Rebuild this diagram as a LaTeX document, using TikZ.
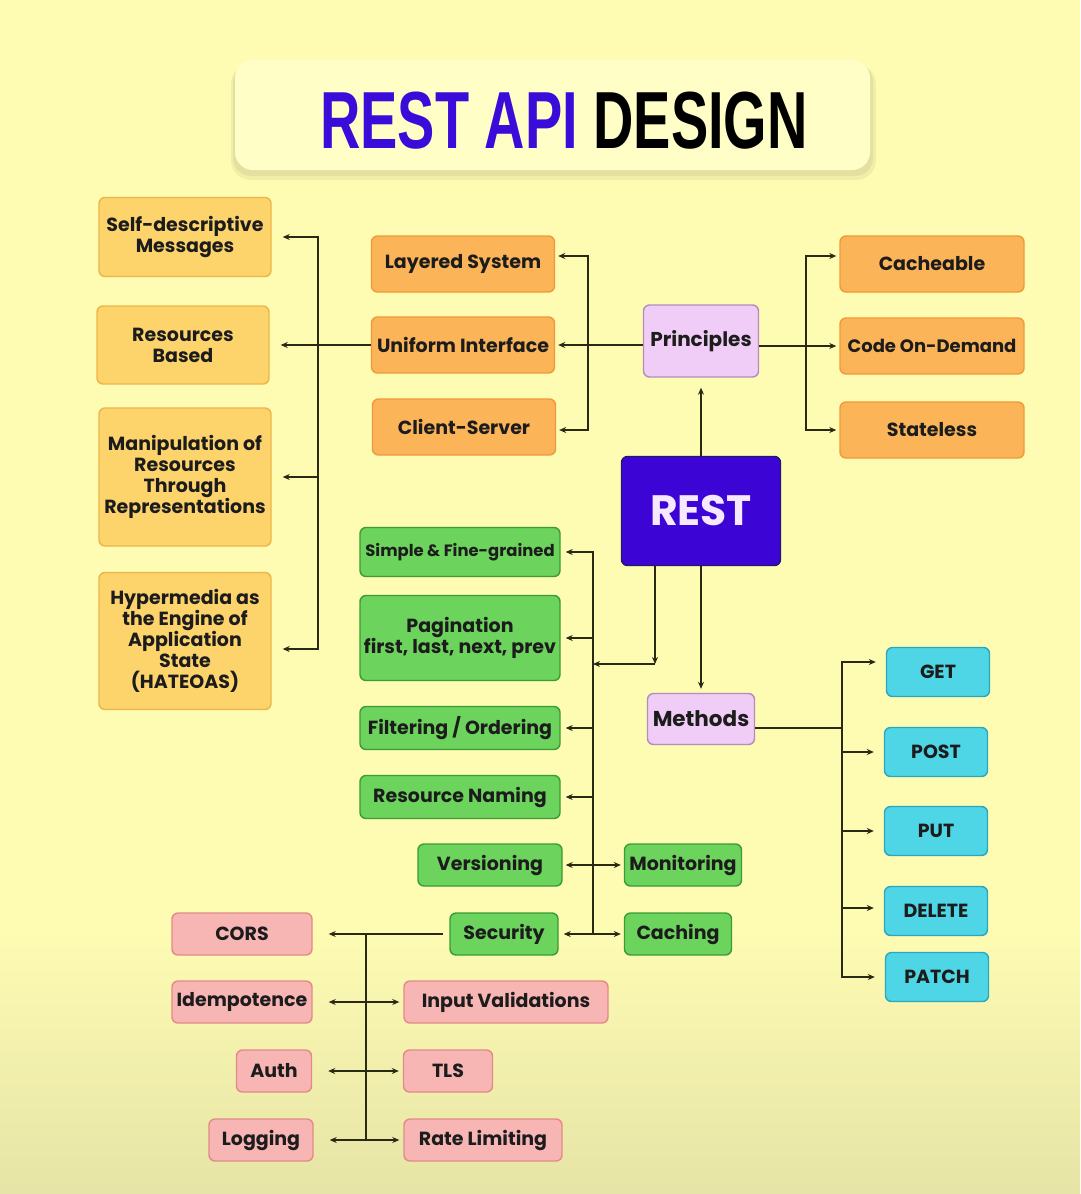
\documentclass[tikz,border=0pt]{standalone}
\usepackage{fontspec}
\setmainfont{Poppins}
\newfontfamily\titlefont{Liberation Sans}
\usetikzlibrary{arrows.meta}
\definecolor{bg}{HTML}{FEFBB3}
\definecolor{bgb}{HTML}{E6E4A6}
\definecolor{titleF}{HTML}{FFFEC6}
\definecolor{titleP}{HTML}{3B0BD9}
\definecolor{txt}{HTML}{1C1C1C}
\definecolor{loF}{HTML}{FDD36C}
\definecolor{loD}{HTML}{EDB548}
\definecolor{moF}{HTML}{FBB458}
\definecolor{moD}{HTML}{EE9A3A}
\definecolor{grF}{HTML}{6CD35C}
\definecolor{grD}{HTML}{3C9B35}
\definecolor{pkF}{HTML}{F7B6B4}
\definecolor{pkD}{HTML}{E38A88}
\definecolor{cyF}{HTML}{4ED6E6}
\definecolor{cyD}{HTML}{2BA7BE}
\definecolor{lvF}{HTML}{EFCDF6}
\definecolor{lvD}{HTML}{B08DBF}
\definecolor{restF}{HTML}{3D05D5}
\definecolor{restD}{HTML}{1E1A6A}
\definecolor{restT}{HTML}{F6E8FF}
\definecolor{lc}{HTML}{2A2A14}
\begin{document}
\begin{tikzpicture}[x=1pt,y=-1pt,
 box/.style={rounded corners=6pt, line width=1.4pt, align=center, inner sep=0pt, text=txt, font=\bfseries\fontsize{19}{21}\selectfont},
 lo/.style={box, fill=loF, draw=loD, minimum width=172pt},
 mo/.style={box, fill=moF, draw=moD, minimum width=183pt, minimum height=56pt},
 gr/.style={box, fill=grF, draw=grD, minimum height=43pt},
 pk/.style={box, fill=pkF, draw=pkD, minimum height=42pt},
 cy/.style={box, fill=cyF, draw=cyD, minimum width=103pt, minimum height=49pt},
 lv/.style={box, fill=lvF, draw=lvD},
 arr/.style={line width=1.8pt, draw=lc, -{Stealth[length=7pt,width=6pt]}},
 darr/.style={line width=1.8pt, draw=lc, {Stealth[length=7pt,width=6pt]}-{Stealth[length=7pt,width=6pt]}},
 ln/.style={line width=1.8pt, draw=lc}]
\useasboundingbox (0,0) rectangle (1080,1194);
% background
\fill[bg] (0,0) rectangle (1080,1194);
\shade[top color=bg, bottom color=bgb] (0,930) rectangle (1080,1194);
% title
\fill[black, opacity=0.05, rounded corners=20pt] (231,64) rectangle (876,180);
\fill[black, opacity=0.05, rounded corners=18pt] (233,64) rectangle (873,176);
\fill[titleF, rounded corners=18pt] (235,60) rectangle (870,170);
\node[inner sep=0pt] (title) at (564,121) {\scalebox{0.69}[1]{\titlefont\bfseries\fontsize{81}{81}\selectfont\textcolor{titleP}{REST API} \textcolor{black}{DESIGN}}};

% left orange column
\node[lo, minimum height=79pt] (sdm) at (185,237) {Self-descriptive\\Messages};
\node[lo, minimum height=78pt] (rb) at (183,345) {Resources\\Based};
\node[lo, minimum height=138pt] (man) at (185,477) {Manipulation of\\Resources\\Through\\Representations};
\node[lo, minimum height=137pt] (hyp) at (185,641) {Hypermedia as\\the Engine of\\Application\\State\\(HATEOAS)};

% middle orange
\node[mo] (ls) at (463,264) {Layered System};
\node[mo] (ui) at (463,345) {Uniform Interface};
\node[mo] (cs) at (464,427) {Client-Server};
% right orange
\node[mo, minimum width=184pt] (cach) at (932,264) {Cacheable};
\node[mo, minimum width=184pt, font=\bfseries\fontsize{18}{21}\selectfont] (cod) at (932,346) {Code On-Demand};
\node[mo, minimum width=184pt] (stl) at (932,430) {Stateless};

% core
\node[lv, minimum width=115pt, minimum height=72pt, font=\bfseries\fontsize{20}{22}\selectfont] (pr) at (701,341) {Principles};
\node[box, fill=restF, draw=restD, text=restT, minimum width=159pt, minimum height=109pt, font=\bfseries\fontsize{42.5}{44}\selectfont] (rest) at (701,511) {REST};
\node[lv, minimum width=107pt, minimum height=51pt, font=\bfseries\fontsize{21.5}{23}\selectfont] (me) at (701,719) {Methods};

% green
\node[gr, minimum width=200pt, minimum height=49pt, font=\bfseries\fontsize{16.4}{19}\selectfont] (sfg) at (460,552) {Simple \& Fine-grained};
\node[gr, minimum width=200pt, minimum height=85pt] (pag) at (460,638) {Pagination\\first, last, next, prev};
\node[gr, minimum width=200pt] (fo) at (460,728) {Filtering / Ordering};
\node[gr, minimum width=200pt] (rn) at (460,797) {Resource Naming};
\node[gr, minimum width=144pt, minimum height=42pt] (ver) at (490,865) {Versioning};
\node[gr, minimum width=117pt, minimum height=42pt] (mon) at (683,865) {Monitoring};
\node[gr, minimum width=108pt, minimum height=42pt] (sec) at (504,934) {Security};
\node[gr, minimum width=107pt, minimum height=42pt] (cac) at (678,934) {Caching};

% pink
\node[pk, minimum width=140pt] (cors) at (242,934) {CORS};
\node[pk, minimum width=140pt] (idm) at (242,1002) {Idempotence};
\node[pk, minimum width=204pt] (iv) at (506,1002) {Input Validations};
\node[pk, minimum width=75pt] (auth) at (274,1071) {Auth};
\node[pk, minimum width=89pt] (tls) at (448,1071) {TLS};
\node[pk, minimum width=104pt] (log) at (261,1140) {Logging};
\node[pk, minimum width=158pt] (rl) at (483,1140) {Rate Limiting};

% cyan
\node[cy] (get) at (938,672) {GET};
\node[cy] (post) at (936,752) {POST};
\node[cy] (put) at (936,831) {PUT};
\node[cy] (del) at (936,911) {DELETE};
\node[cy] (pat) at (937,977) {PATCH};

% junction coordinates
\coordinate (s1) at (588,345);
\coordinate (s2) at (318,345);
\coordinate (s3) at (806,346);
\coordinate (j1) at (655,664);
\coordinate (s4) at (593,934);
\coordinate (s5) at (842,728);
\coordinate (s6t) at (366,934);
\coordinate (s6b) at (366,1140);

% principles left
\draw[arr] (pr.west |- ui.east) -- ([xshift=3pt]ui.east);
\draw[arr] (s1) |- ([xshift=3pt,yshift=8pt]ls.east);
\draw[arr] (s1) |- ([xshift=3pt,yshift=-3pt]cs.east);
% uniform interface -> left column
\draw[arr] (ui.west) -- ([xshift=11pt]rb.east);
\draw[arr] (s2) |- ([xshift=11pt]sdm.east);
\draw[arr] (s2) |- ([xshift=11pt]man.east);
\draw[arr] (s2) |- ([xshift=11pt,yshift=-8pt]hyp.east);
% principles right
\draw[arr] (pr.east |- cod.west) -- ([xshift=-3pt]cod.west);
\draw[arr] (s3) |- ([xshift=-3pt,yshift=8pt]cach.west);
\draw[arr] (s3) |- ([xshift=-3pt]stl.west);
% REST
\draw[arr] (rest.north) -- ([yshift=-10pt]pr.south);
\draw[arr] (rest.south) -- ([yshift=4pt]me.north);
\draw[arr] (rest.south -| j1) -- (j1);
\draw[arr] (j1) -- (j1 -| s4);
% green spine
\draw[arr] (s4) |- ([xshift=5pt]sfg.east);
\draw[arr] (s4) |- ([xshift=5pt]pag.east);
\draw[arr] (s4) |- ([xshift=5pt]fo.east);
\draw[arr] (s4) |- ([xshift=5pt]rn.east);
\draw[darr] ([xshift=3pt]ver.east) -- ([xshift=-3pt]mon.west);
\draw[darr] ([xshift=5pt]sec.east) -- ([xshift=-3pt]cac.west);
% methods
\draw[ln] (me.east |- s5) -- (s5);
\draw[arr] (s5) |- ([xshift=-10pt,yshift=10pt]get.west);
\draw[arr] (s5) |- ([xshift=-10pt]post.west);
\draw[arr] (s5) |- ([xshift=-10pt]put.west);
\draw[arr] (s5) |- ([xshift=-10pt,yshift=3pt]del.west);
\draw[arr] (s5) |- ([xshift=-10pt]pat.west);
% security
\draw[arr] ([xshift=-6pt]sec.west) -- ([xshift=16pt]cors.east);
\draw[ln] (s6t) -- (s6b);
\draw[darr] ([xshift=16pt]idm.east) -- ([xshift=-4pt]iv.west);
\draw[darr] ([xshift=16pt]auth.east) -- ([xshift=-4pt]tls.west);
\draw[darr] ([xshift=16pt]log.east) -- ([xshift=-4pt]rl.west);
\end{tikzpicture}
\end{document}
